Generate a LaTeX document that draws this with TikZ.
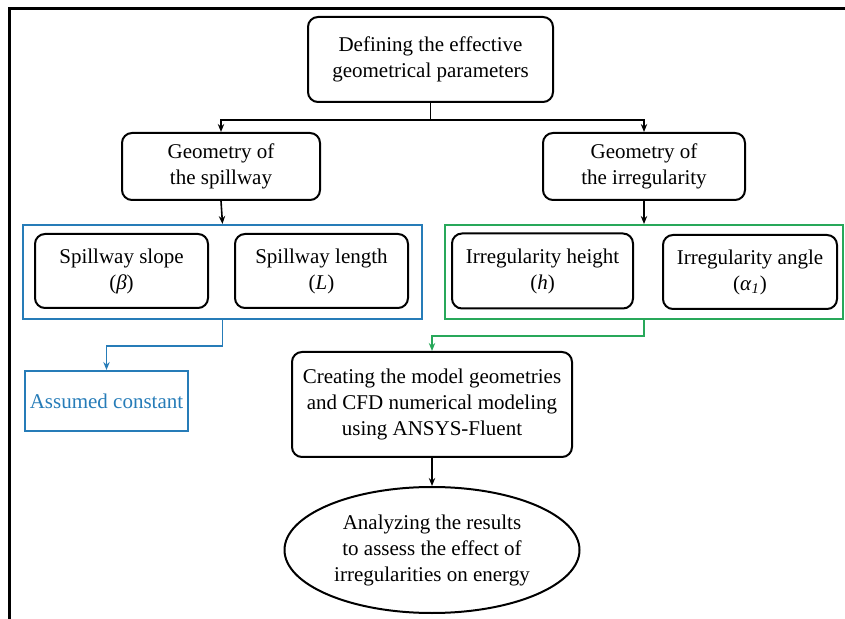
\documentclass[tikz,border=0pt]{standalone}
\usepackage{fontspec}
\setmainfont{Liberation Serif}
\usetikzlibrary{arrows.meta,shapes.geometric}
\definecolor{bluec}{RGB}{38,124,184}
\definecolor{greenc}{RGB}{40,168,90}
\begin{document}
\begin{tikzpicture}[x=0.5pt,y=-0.5pt,
  every node/.style={font=\fontsize{10.5}{13}\selectfont, align=center, inner sep=0pt},
  sz/.style 2 args={minimum width=#1*0.5pt, minimum height=#2*0.5pt},
  rbox/.style={draw, line width=1pt, rounded corners=5pt, rectangle},
  grp/.style={draw, line width=1pt, rectangle},
  arr/.style={line width=0.8pt, -{Stealth[length=4pt,width=3.2pt]}},
  ln/.style={line width=0.8pt}]
\useasboundingbox (0,0) rectangle (845,619);
\draw[line width=1.5pt] (9,619) -- (9,9) -- (845,9);

\node[rbox, sz={245}{85}] (top) at (430.5,59.5) {Defining the effective\\geometrical parameters};
\node[rbox, sz={198}{67}] (geoS) at (221,166.5) {Geometry of\\the spillway};
\node[rbox, sz={202}{67}] (geoI) at (644,166.5) {Geometry of\\the irregularity};

\node[grp, draw=bluec, sz={399}{94}] (blue) at (222.5,272) {};
\node[rbox, sz={173}{74}] (slope) at (121.5,271) {Spillway slope\\(\textit{β})};
\node[rbox, sz={173}{74}] (length) at (321.5,271) {Spillway length\\(\textit{L})};

\node[grp, draw=greenc, sz={398}{94}] (green) at (644,272) {};
\node[rbox, sz={181}{75}] (height) at (542.5,271) {Irregularity height\\(\textit{h})};
\node[rbox, sz={174}{74}] (angle) at (750,272) {Irregularity angle\\(\textit{α}\textsubscript{\textit{1}})};

\node[grp, draw=bluec, text=bluec, sz={163}{60}] (assumed) at (106.5,401) {Assumed constant};
\node[rbox, sz={280}{105}] (create) at (432,404.5) {Creating the model geometries\\and CFD numerical modeling\\using ANSYS-Fluent};
\node[ellipse, draw, line width=1pt, sz={295}{126}] (ana) at (432,550) {Analyzing the results\\to assess the effect of\\irregularities on energy};

\draw[ln] (top.south) -- ++(0,17) coordinate (j);
\draw[arr] (j) -| (geoS.north);
\draw[arr] (j) -| (geoI.north);
\draw[arr] (geoS.south) -- (blue.north);
\draw[arr] (geoI.south) -- (green.north);
\draw[arr, color=bluec] (blue.south) -- ++(0,26) -| (assumed.north);
\draw[arr, color=greenc] (green.south) -- ++(0,16) -| (create.north);
\draw[arr] (create.south) -- (ana.north);
\end{tikzpicture}
\end{document}
